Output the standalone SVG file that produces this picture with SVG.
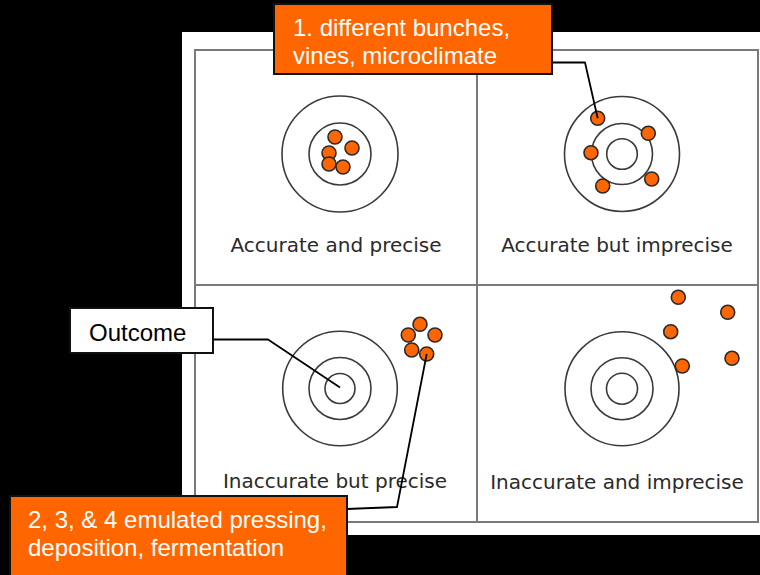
<svg xmlns="http://www.w3.org/2000/svg" width="760" height="575" viewBox="0 0 760 575">
  <defs>
    <style>
      .grid { fill: none; stroke: #7a7a7a; stroke-width: 2; }
      .ring { fill: none; stroke: #3a3a3a; stroke-width: 1.6; }
      .dot { fill: #ff6600; stroke: #2a2a2a; stroke-width: 1.6; }
      .cap { font-family: "DejaVu Sans", Verdana, sans-serif; font-size: 20px; fill: #2a2a2a; text-anchor: middle; }
      .callout { fill: #ff6600; stroke: #111; stroke-width: 2; }
      .callout-text { font-family: "Liberation Sans", Arial, sans-serif; font-size: 24px; fill: #ffffff; }
      .tag { fill: #ffffff; stroke: #111; stroke-width: 2; }
      .tag-text { font-family: "Liberation Sans", Arial, sans-serif; font-size: 24px; fill: #000; }
      .lead { fill: none; stroke: #000; stroke-width: 1.8; stroke-linejoin: round; }
    </style>
  </defs>

  <!-- backdrop -->
  <rect x="0" y="0" width="760" height="575" fill="#000"/>
  <rect x="182" y="32" width="578" height="503" fill="#fff"/>

  <!-- 2x2 grid -->
  <g id="grid">
    <rect class="grid" x="195" y="50" width="563" height="472"/>
    <line class="grid" x1="477" y1="50" x2="477" y2="522"/>
    <line class="grid" x1="195" y1="285" x2="758" y2="285"/>
  </g>

  <!-- accurate and precise -->
  <g id="target-accurate-precise">
    <circle class="ring" cx="340" cy="154" r="58"/>
    <circle class="ring" cx="340" cy="154" r="31"/>
    <circle class="dot" cx="335" cy="137" r="7"/>
    <circle class="dot" cx="352" cy="148" r="7"/>
    <circle class="dot" cx="329" cy="153" r="7"/>
    <circle class="dot" cx="329" cy="164" r="7"/>
    <circle class="dot" cx="343" cy="167" r="7"/>
    <text class="cap" x="336" y="252">Accurate and precise</text>
  </g>

  <!-- accurate but imprecise -->
  <g id="target-accurate-imprecise">
    <circle class="ring" cx="622" cy="154" r="57.5"/>
    <circle class="ring" cx="622" cy="154" r="30.5"/>
    <circle class="ring" cx="622" cy="154" r="15.3"/>
    <circle class="dot" cx="597.7" cy="118.3" r="7"/>
    <circle class="dot" cx="648.3" cy="133.3" r="7"/>
    <circle class="dot" cx="591" cy="152.7" r="7"/>
    <circle class="dot" cx="651.7" cy="179" r="7"/>
    <circle class="dot" cx="602.7" cy="186" r="7"/>
    <text class="cap" x="617" y="252">Accurate but imprecise</text>
  </g>

  <!-- inaccurate but precise -->
  <g id="target-inaccurate-precise">
    <circle class="ring" cx="340" cy="388.5" r="57.3"/>
    <circle class="ring" cx="340" cy="388.5" r="31"/>
    <circle class="ring" cx="340" cy="388.5" r="15"/>
    <circle class="dot" cx="420" cy="324.3" r="7"/>
    <circle class="dot" cx="408.3" cy="335" r="7"/>
    <circle class="dot" cx="435" cy="335" r="7"/>
    <circle class="dot" cx="411.7" cy="350" r="7"/>
    <circle class="dot" cx="426.7" cy="354" r="7"/>
    <text class="cap" x="335" y="488">Inaccurate but precise</text>
  </g>

  <!-- inaccurate and imprecise -->
  <g id="target-inaccurate-imprecise">
    <circle class="ring" cx="622" cy="388.7" r="57"/>
    <circle class="ring" cx="622" cy="388.7" r="31"/>
    <circle class="ring" cx="622" cy="388.7" r="15.5"/>
    <circle class="dot" cx="678.3" cy="297.3" r="7"/>
    <circle class="dot" cx="727.7" cy="312.3" r="7"/>
    <circle class="dot" cx="670.7" cy="331.7" r="7"/>
    <circle class="dot" cx="682.3" cy="366" r="7"/>
    <circle class="dot" cx="732" cy="358.3" r="7"/>
    <text class="cap" x="617" y="489">Inaccurate and imprecise</text>
  </g>

  <!-- leader lines -->
  <g id="connectors">
    <polyline class="lead" points="553,62.5 585,62.5 597.7,118.3"/>
    <polyline class="lead" points="213,339.5 268,339.5 340,387.5"/>
    <polyline class="lead" points="426.7,354 397,507 347,509"/>
  </g>

  <!-- callouts -->
  <g id="note-bunches">
    <rect class="callout" x="274" y="4" width="278" height="70"/>
    <text class="callout-text" x="293" y="36">1. different bunches,</text>
    <text class="callout-text" x="293" y="63.5">vines, microclimate</text>
  </g>

  <g id="note-outcome">
    <rect class="tag" x="70" y="308" width="143" height="45"/>
    <text class="tag-text" x="89" y="341">Outcome</text>
  </g>

  <g id="note-pressing">
    <rect class="callout" x="10" y="496" width="337" height="85"/>
    <text class="callout-text" x="28" y="528">2, 3, &amp; 4 emulated pressing,</text>
    <text class="callout-text" x="28" y="556">deposition, fermentation</text>
  </g>
</svg>
